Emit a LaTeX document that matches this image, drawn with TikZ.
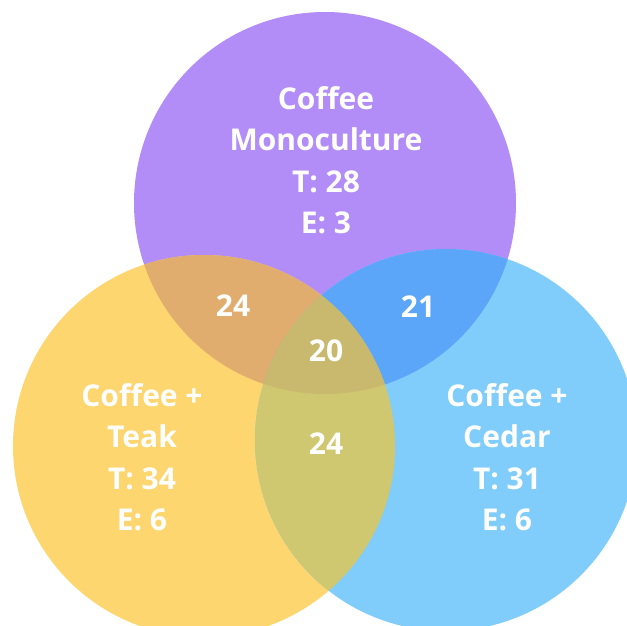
\documentclass[tikz,border=0pt]{standalone}
\usepackage{fontspec}
\setmainfont{Open Sans}
\usetikzlibrary{positioning}
\definecolor{mono}{HTML}{B38DF7}
\definecolor{teak}{HTML}{FDD66F}
\definecolor{cedar}{HTML}{80CCFB}
\definecolor{monoteak}{HTML}{E0AD6E}
\definecolor{monocedar}{HTML}{5BA6F9}
\definecolor{teakcedar}{HTML}{D0C870}
\definecolor{allthree}{HTML}{C9B96E}

\begin{document}
\begin{tikzpicture}[x=1pt,y=-1pt,
    lbl/.style={text=white,font=\bfseries\fontsize{30}{41.5}\selectfont,align=center},
    num/.style={text=white,font=\bfseries\fontsize{30}{41.5}\selectfont}]
    \useasboundingbox[fill=white] (0,0) rectangle (627,626);
    \def\rad{191}
    \coordinate (M) at (325,203);
    \coordinate (T) at (204,446);
    \coordinate (C) at (446,440);
    % sets
    \fill[mono] (M) circle (\rad);
    \fill[teak] (T) circle (\rad);
    \fill[cedar] (C) circle (\rad);
    % pairwise overlaps
    \begin{scope}
        \clip (M) circle (\rad);
        \fill[monoteak] (T) circle (\rad);
        \fill[monocedar] (C) circle (\rad);
    \end{scope}
    \begin{scope}
        \clip (T) circle (\rad);
        \fill[teakcedar] (C) circle (\rad);
    \end{scope}
    \begin{scope}
        \clip (M) circle (\rad);
        \clip (T) circle (\rad);
        \fill[allthree] (C) circle (\rad);
    \end{scope}
    % labels
    \node[lbl] (mono) at (326,160) {Coffee\\Monoculture\\T: 28\\E: 3};
    \node[lbl] (teak) at (142,457) {Coffee +\\Teak\\T: 34\\E: 6};
    \node[lbl] (cedar) at (507,457) {Coffee +\\Cedar\\T: 31\\E: 6};
    \node[num] (mt) at (233,306) {24};
    \node[num] (mc) at (418,307) {21};
    \node[num] (mtc) at (326,351) {20};
    \node[num] (tc) at (326,444) {24};
\end{tikzpicture}
\end{document}
